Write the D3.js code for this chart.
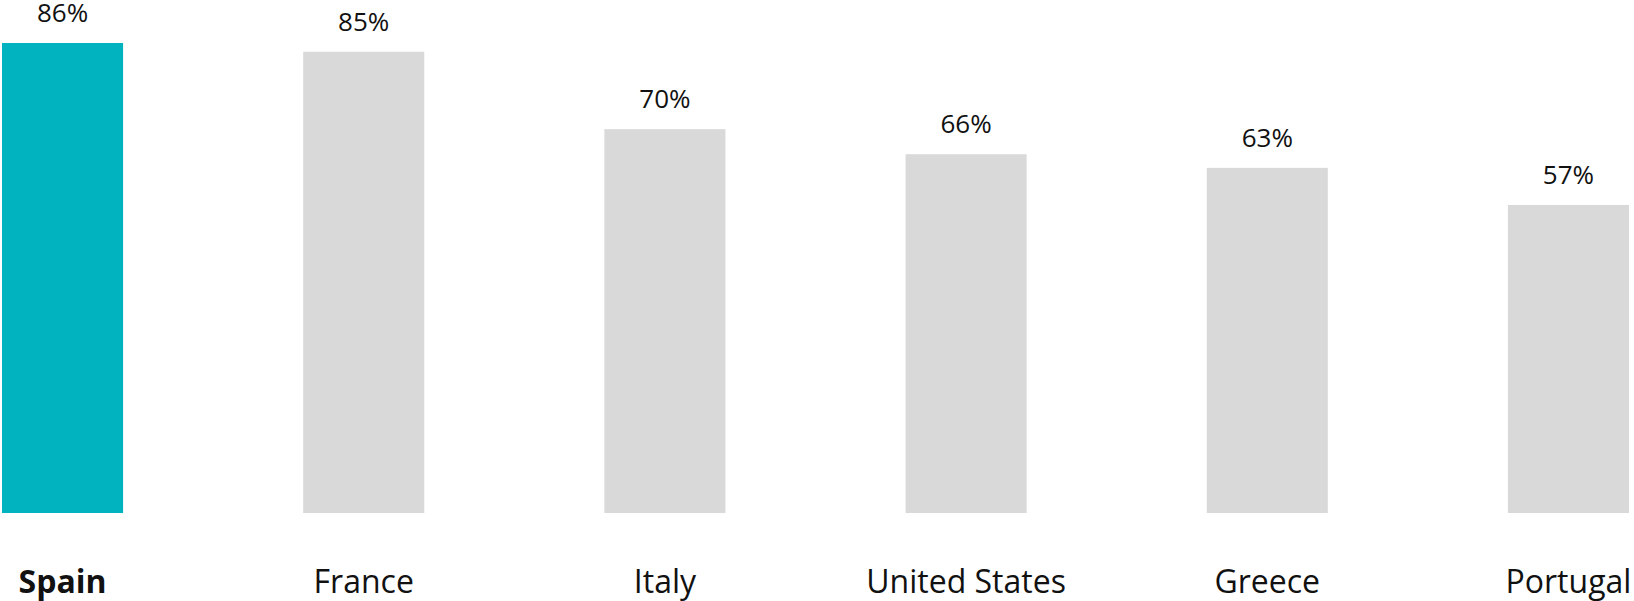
<!DOCTYPE html>
<html>
<head>
<meta charset="utf-8">
<script src="https://cdn.jsdelivr.net/npm/d3@7"></script>
<style>
  body { margin: 0; background: #fff; }
  svg { display: block; font-family: "Open Sans", sans-serif; }
</style>
</head>
<body>
<div class="chart-wrapper"></div>
<script>
// countries, highlighted one first
const countries = ["Spain", "France", "Italy", "United States", "Greece", "Portugal"]
const values = [86.2, 84.6, 70.4, 65.8, 63.3, 56.5]
const highlight = "Spain"

let width = 1634
let height = 601

let baseline = 513

let svg = d3.select(".chart-wrapper").append('svg')
.attr('width', width)
.attr('height', height)

let x = d3.scaleBand()
.domain(countries)
.range([2, 1629])
.paddingInner(0.598)
.paddingOuter(0)

let y = d3.scaleLinear()
.domain([0, d3.max(values)])
.range([baseline, 43])

let data = countries.map((c, i) => ({country: c, value: values[i]}))

svg.selectAll('rect')
.data(data)
.enter()
.append('rect')
.attr('x', d => x(d.country))
.attr('y', d => y(d.value))
.attr('width', x.bandwidth())
.attr('height', d => baseline - y(d.value))
.style('fill', d => d.country === highlight ? '#00B3BE' : '#D9D9D9')

// value labels on top
svg.selectAll('.value')
.data(data)
.enter()
.append('text')
.attr('class', 'value')
.attr('x', d => x(d.country) + x.bandwidth() / 2)
.attr('y', d => y(d.value) - 21)
.attr('text-anchor', 'middle')
.style('font-size', '26px')
.style('fill', '#111')
.text(d => d3.format('.0f')(d.value) + '%')

// country names under the bars
svg.selectAll('.country')
.data(data)
.enter()
.append('text')
.attr('class', 'country')
.attr('x', d => x(d.country) + x.bandwidth() / 2)
.attr('y', 593)
.attr('text-anchor', 'middle')
.style('font-size', '32px')
.style('font-weight', d => d.country === highlight ? 'bold' : 'normal')
.style('fill', '#111')
.text(d => d.country)
</script>
</body>
</html>
